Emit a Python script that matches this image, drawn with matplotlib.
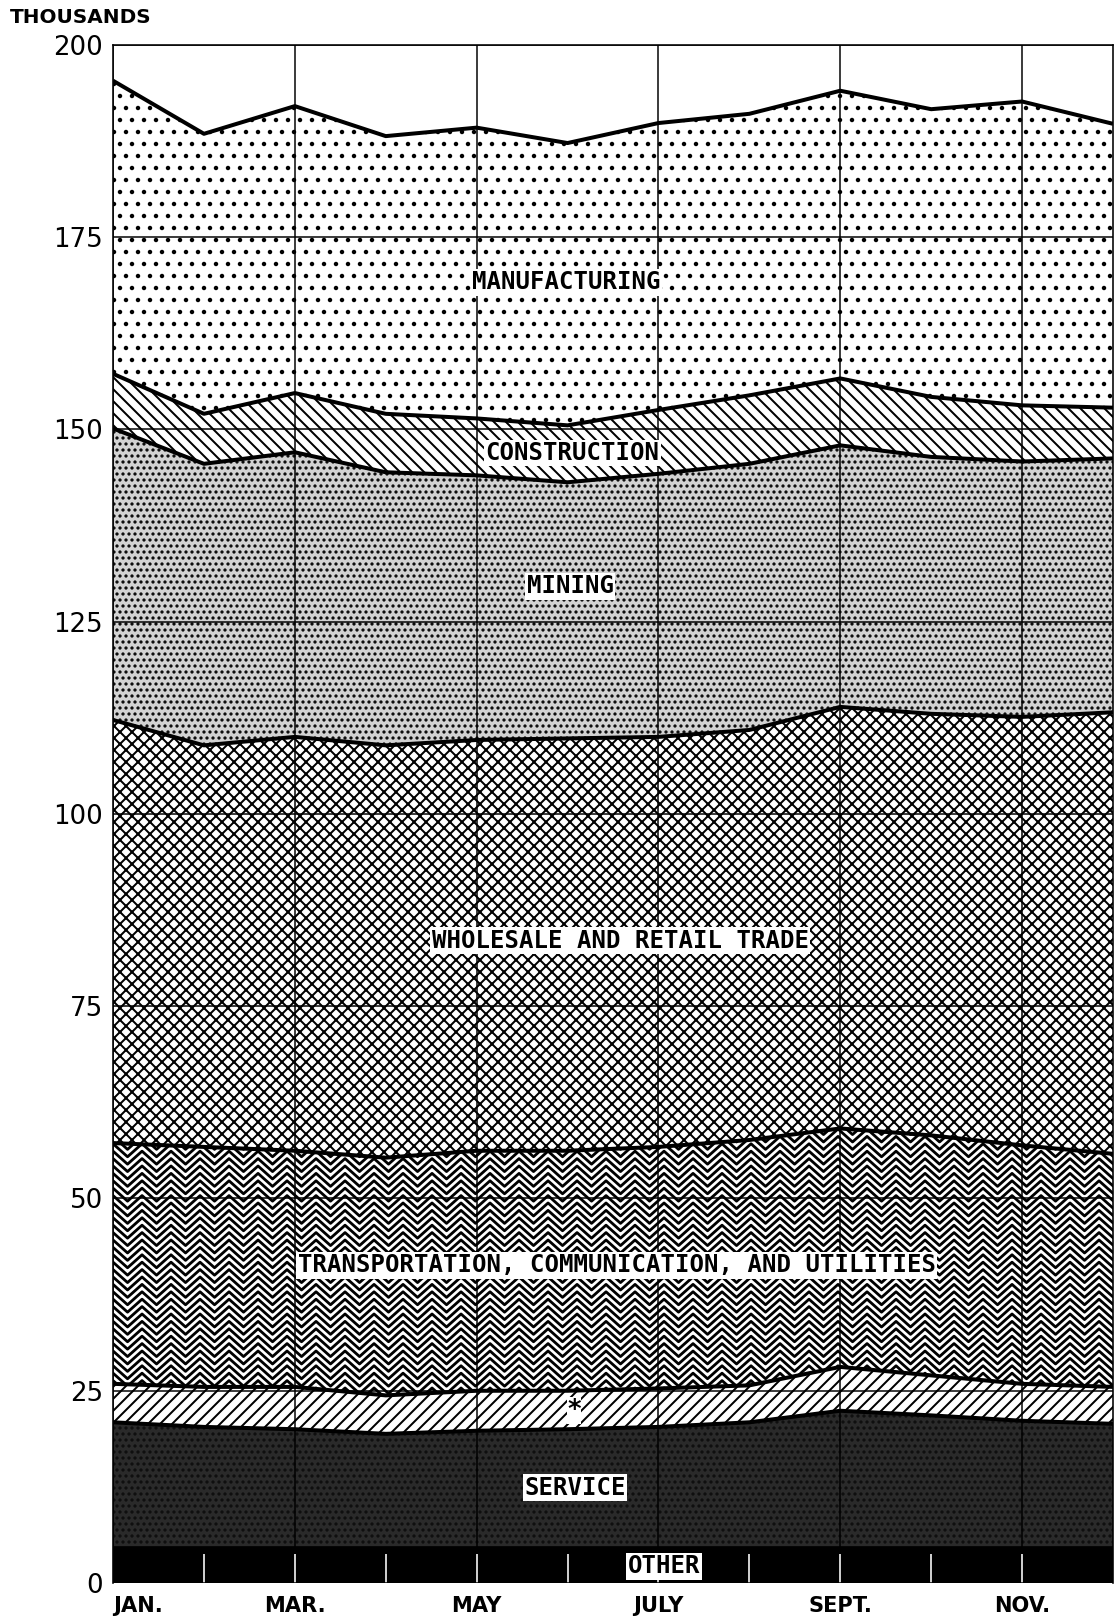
import numpy as np
import matplotlib
matplotlib.use("Agg")
import matplotlib.pyplot as plt
from matplotlib.collections import LineCollection

# monthly employment by industry, thousands (bottom to top)
month_labels = ["JAN.", "", "MAR.", "", "MAY", "", "JULY", "", "SEPT.", "", "NOV.", ""]
other = [4.8, 4.8, 4.8, 4.8, 4.8, 4.8, 4.8, 4.8, 4.8, 4.8, 4.8, 4.8]
service = [16.1, 15.5, 15.2, 14.6, 15.0, 15.2, 15.5, 16.1, 17.6, 17.0, 16.3, 15.9]
starred = [5.0, 5.2, 5.5, 5.0, 5.2, 5.0, 5.0, 4.8, 5.7, 5.2, 4.8, 4.8]
transport = [31.3, 31.2, 30.7, 30.9, 31.2, 31.2, 31.4, 31.9, 31.0, 31.2, 31.0, 30.3]
trade = [55.0, 52.2, 53.8, 53.6, 53.4, 53.6, 53.3, 53.3, 54.8, 54.8, 55.7, 57.4]
mining = [37.9, 36.6, 37.0, 35.5, 34.4, 33.3, 34.2, 34.6, 34.0, 33.4, 33.2, 33.0]
construction = [7.1, 6.5, 7.7, 7.6, 7.4, 7.4, 8.3, 8.9, 8.7, 7.8, 7.3, 6.6]
manufacturing = [38.1, 36.4, 37.3, 36.1, 37.8, 36.7, 37.3, 36.6, 37.4, 37.4, 39.5, 36.9]

layers = [other, service, starred, transport, trade, mining, construction, manufacturing]

# fill style per layer: (facecolor, hatch colour, hatch)
styles = [
    ("black", "black", None),
    ("#2a2a2a", "#0e0e0e", ".."),
    ("white", "black", "//"),
    ("white", "black", None),      # zigzag drawn by hand below
    ("white", "black", "xx"),
    ("#d2d2d2", "black", ".."),
    ("white", "black", "\\\\"),
    ("white", "black", "."),
]

plt.rcParams["hatch.linewidth"] = 2.0

dpi = 72
fig = plt.figure(figsize=(1117 / dpi, 1621 / dpi), dpi=dpi)
ax = fig.add_axes([0.1012, 0.0234, 0.8952, 0.9491])
ax.set_xlim(0, 11)
ax.set_ylim(0, 200)

x = np.arange(len(other))
tops = np.cumsum(np.array(layers), axis=0)
bottoms = np.vstack([np.zeros(len(x)), tops[:-1]])

polys = []
for i, (lo, hi) in enumerate(zip(bottoms, tops)):
    fc, hc, hatch = styles[i]
    p = ax.fill_between(x, lo, hi, facecolor=fc, edgecolor=hc, hatch=hatch,
                        linewidth=0, zorder=1)
    polys.append(p)

# chevron pattern for transportation layer
px_x = ax.bbox.width / 11
px_y = ax.bbox.height / 200
half = 14.5 / px_x
rise = 13 / px_y
step = 7.4 / px_y
xs = np.arange(-half, 11 + 2 * half, half)
zig = np.arange(len(xs)) % 2
segs = []
for y0 in np.arange(bottoms[3].min() - rise - step, tops[3].max() + step, step):
    segs.append(np.column_stack([xs, y0 + rise * zig]))
lc = LineCollection(segs, colors="black", linewidths=2.8, zorder=1.5)
lc.set_clip_path(polys[3].get_paths()[0], ax.transData)
ax.add_collection(lc)

# heavy boundary lines
for i in range(1, len(layers)):
    ax.plot(x, tops[i], color="black", lw=4, zorder=3, solid_capstyle="butt")

# grid and axes
ax.set_yticks(range(0, 201, 25))
ax.set_xticks(range(0, 12, 2))
ax.set_xticklabels([m for m in month_labels if m])
ax.set_xticks(range(1, 11), minor=True)
ax.grid(True, color="black", lw=1.5)
ax.set_axisbelow(False)
ax.tick_params(axis="y", length=0, labelsize=26, pad=10)
ax.tick_params(axis="x", which="both", direction="in", length=29, width=1.6,
               color="white", labelsize=21, pad=13)
for lab in ax.get_xticklabels():
    lab.set_fontweight("bold")
ax.get_xticklabels()[0].set_horizontalalignment("left")
ax.xaxis.get_major_ticks()[0].tick1line.set_visible(False)
for s in ["left", "top", "right"]:
    ax.spines[s].set_linewidth(1.6)
ax.spines["bottom"].set_visible(False)

fig.text(0.009, 0.9895, "THOUSANDS", fontsize=20, fontweight="bold", va="center")

# in-chart labels
box = dict(facecolor="white", edgecolor="none", pad=1.5)
lab_kw = dict(family="DejaVu Sans Mono", fontweight="bold", fontsize=24,
              ha="center", va="center", zorder=6, bbox=box)
ax.text(4.99, 169.1, "MANUFACTURING", **lab_kw)
ax.text(5.05, 146.9, "CONSTRUCTION", **lab_kw)
ax.text(5.03, 129.6, "MINING", **lab_kw)
ax.text(5.58, 83.5, "WHOLESALE AND RETAIL TRADE", **lab_kw)
ax.text(5.54, 41.3, "TRANSPORTATION, COMMUNICATION, AND UTILITIES", **lab_kw)
ax.text(5.07, 22.4, "*", family="DejaVu Sans", fontweight="bold", fontsize=26,
        ha="center", va="center", zorder=6,
        bbox=dict(facecolor="white", edgecolor="none", pad=0.2))
ax.text(5.08, 12.4, "SERVICE", **lab_kw)
ax.text(6.06, 2.2, "OTHER", **lab_kw)

fig.savefig("out.png", dpi=dpi, facecolor="white")
